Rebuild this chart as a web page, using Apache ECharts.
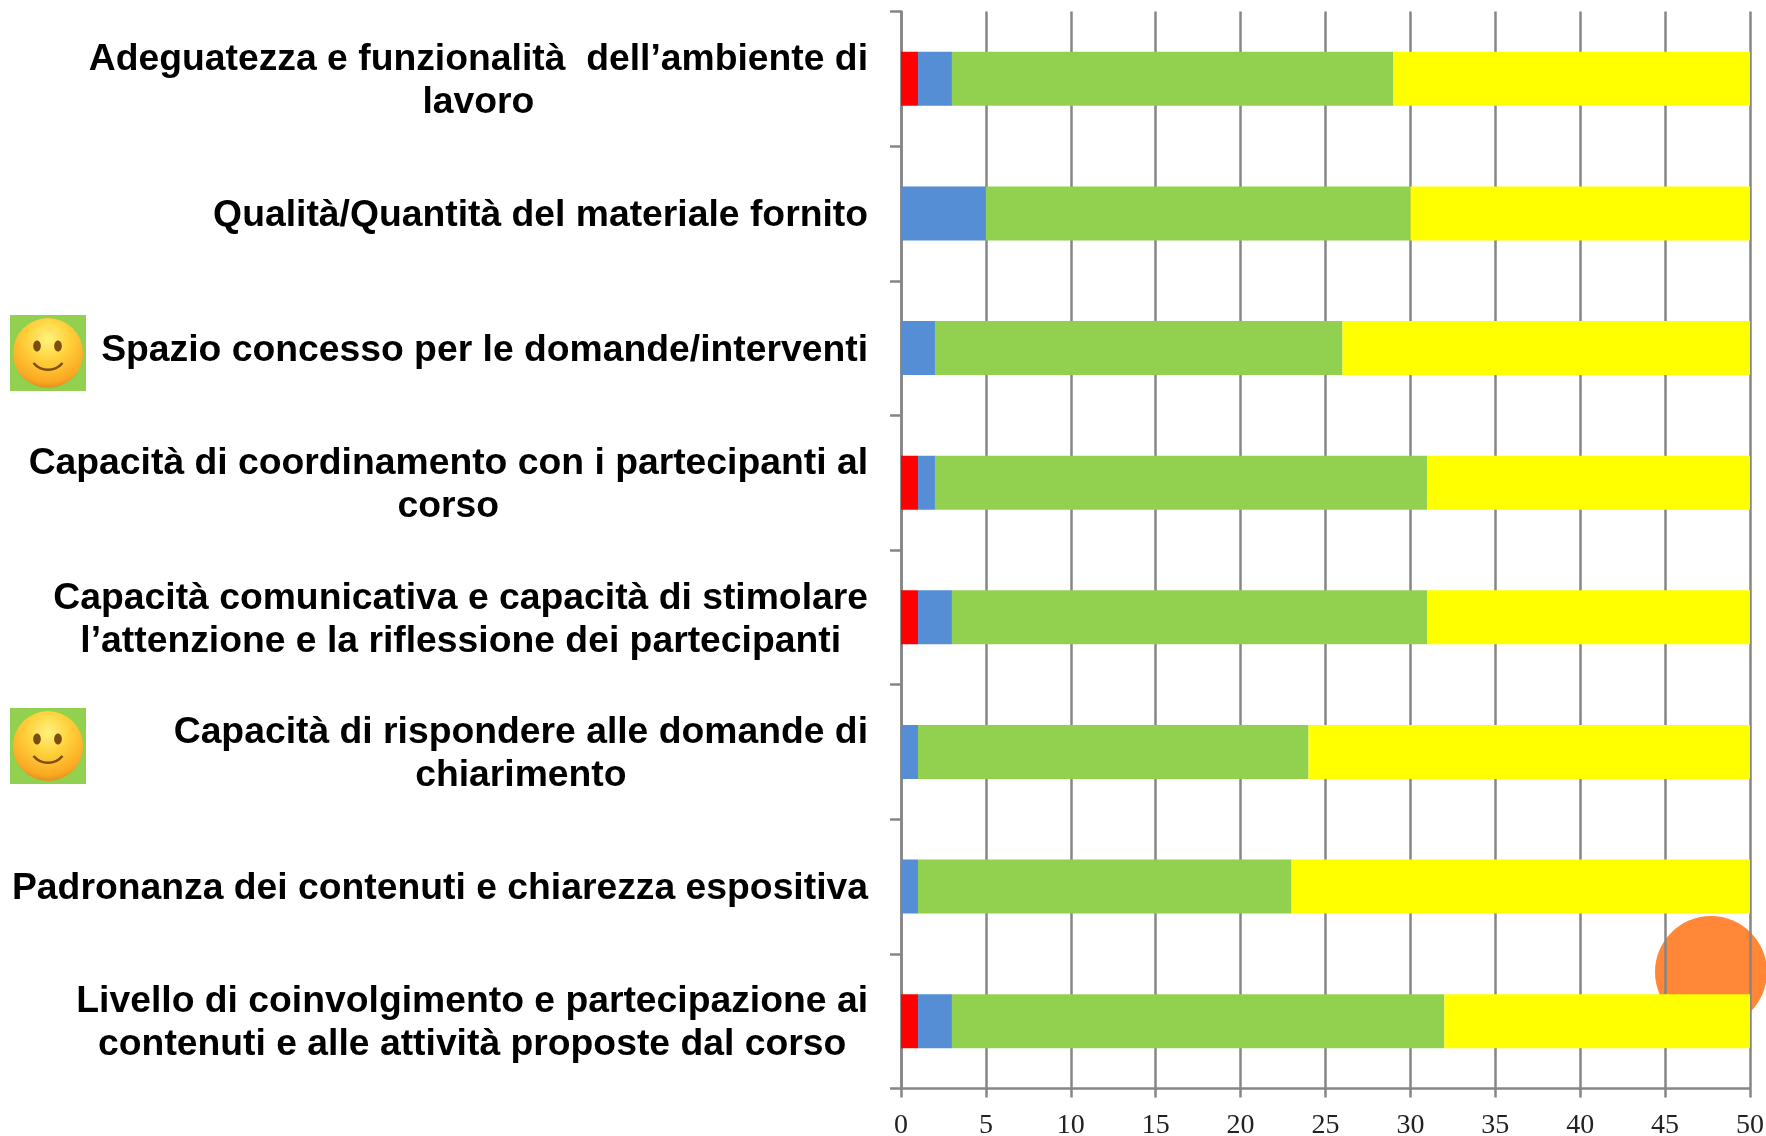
<!DOCTYPE html>
<html>
<head>
<meta charset="utf-8">
<style>html,body{margin:0;padding:0;background:#fff}#c{width:1766px;height:1136px}</style>
<script src="https://cdn.jsdelivr.net/npm/echarts@6/dist/echarts.min.js"></script>
</head>
<body>
<div id="c"></div>
<script>
const categories = [
  "Adeguatezza e funzionalità  dell’ambiente di\nlavoro",
  "Qualità/Quantità del materiale fornito",
  "Spazio concesso per le domande/interventi",
  "Capacità di coordinamento con i partecipanti al\ncorso",
  "Capacità comunicativa e capacità di stimolare\nl’attenzione e la riflessione dei partecipanti",
  "Capacità di rispondere alle domande di\nchiarimento",
  "Padronanza dei contenuti e chiarezza espositiva",
  "Livello di coinvolgimento e partecipazione ai\ncontenuti e alle attività proposte dal corso"
];
const redValues    = [1, 0, 0, 1, 1, 0, 0, 1];
const blueValues   = [2, 5, 2, 1, 2, 1, 1, 2];
const greenValues  = [26, 25, 24, 29, 28, 23, 22, 29];
const yellowValues = [21, 20, 24, 19, 19, 26, 27, 18];
const seriesColors = ['#FF0000', '#558ED5', '#92D050', '#FFFF00'];
const axisColor = '#868686';

function smiley(x, y) {
  const s = 76, cx = x + 38, cy = y + 38;
  return {
    type: 'group', z: 5,
    children: [
      { type: 'rect', shape: { x: x, y: y, width: s, height: s }, style: { fill: '#92D050' } },
      { type: 'circle', shape: { cx: cx, cy: cy, r: 35 }, style: {
          fill: { type: 'radial', x: 0.5, y: 0.3, r: 0.75, colorStops: [
            { offset: 0, color: '#FFF27E' }, { offset: 0.4, color: '#FFD23C' },
            { offset: 0.82, color: '#FBA822' }, { offset: 1, color: '#D0821C' }] } } },
      { type: 'ellipse', shape: { cx: cx - 11, cy: cy - 7, rx: 3.8, ry: 5.5 }, style: { fill: '#7A4E12' } },
      { type: 'ellipse', shape: { cx: cx + 10, cy: cy - 7, rx: 3.8, ry: 5.5 }, style: { fill: '#7A4E12' } },
      { type: 'bezierCurve', shape: { x1: cx - 14.5, y1: cy + 10, x2: cx + 14.5, y2: cy + 10,
          cpx1: cx - 7, cpy1: cy + 19, cpx2: cx + 7, cpy2: cy + 19 },
        style: { stroke: '#7A4E12', lineWidth: 2.6, fill: 'none' } }
    ]
  };
}

const chart = echarts.init(document.getElementById('c'), null, { renderer: 'canvas' });
const names = ['Rosso', 'Blu', 'Verde', 'Giallo'];
const values = [redValues, blueValues, greenValues, yellowValues];
chart.setOption({
  animation: false,
  backgroundColor: '#fff',
  grid: { left: 901, right: 16, top: 11.5, bottom: 47.5, containLabel: false, outerBoundsMode: 'none' },
  xAxis: {
    type: 'value', min: 0, max: 50, interval: 5,
    axisLine: { show: true, lineStyle: { color: axisColor, width: 2.5 } },
    axisTick: { show: true, length: 9, lineStyle: { color: axisColor, width: 2.5 } },
    splitLine: { show: true, lineStyle: { color: axisColor, width: 2.5 } },
    axisLabel: { color: '#222', fontFamily: 'Liberation Serif', fontSize: 28, margin: 23, hideOverlap: false }
  },
  yAxis: {
    type: 'category', inverse: true, data: categories,
    axisLine: { show: true, lineStyle: { color: axisColor, width: 2.5 } },
    axisTick: { show: true, length: 11, alignWithLabel: false, lineStyle: { color: axisColor, width: 2.5 } },
    splitLine: { show: false },
    axisLabel: {
      interval: 0, margin: 33, align: 'right', padding: [5, 0, 0, 0],
      formatter: v => v.split('\n').map(l => '{t|' + l + '}').join('\n'),
      rich: { t: { align: 'center', fontFamily: 'Liberation Sans', fontWeight: 'bold', fontSize: 37.3, lineHeight: 43, color: '#000' } }
    }
  },
  series: names.map((n, i) => ({
    name: n, type: 'bar', stack: 'tot', barWidth: 54, data: values[i],
    itemStyle: { color: seriesColors[i] }, z: 3
  })),
  graphic: [
    { type: 'circle', z: -1, shape: { cx: 1711, cy: 972, r: 56 }, style: { fill: '#FF8737' } },
    smiley(10, 315),
    smiley(10, 708)
  ]
});
</script>
</body>
</html>
